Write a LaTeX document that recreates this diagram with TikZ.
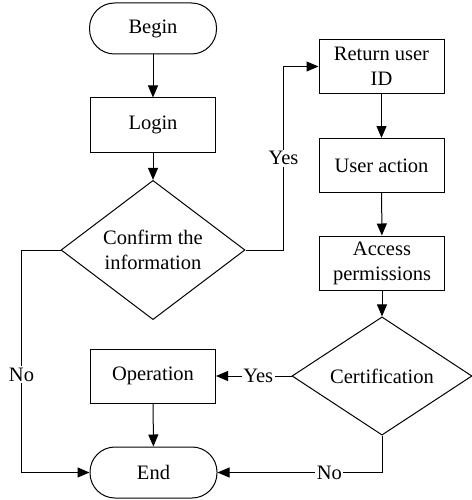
\documentclass[tikz,border=0pt]{standalone}
\usepackage{fontspec}
\setmainfont{Liberation Serif}
\usetikzlibrary{shapes.geometric,arrows.meta}
\begin{document}
\begin{tikzpicture}[x=1pt,y=-1pt,
  every node/.style={font=\fontsize{20.5}{25}\selectfont},
  proc/.style={draw, line width=1pt, minimum width=125pt, minimum height=54pt, inner sep=0pt, align=center},
  term/.style={draw, line width=1pt, rounded corners=25pt, minimum width=127pt, minimum height=51pt, inner sep=0pt},
  decision/.style={draw, diamond, line width=1pt, inner sep=0pt, align=center},
  lbl/.style={fill=white, inner sep=1.5pt},
  flow/.style={line width=1pt, -{Triangle[length=12pt,width=10pt]}}]
\useasboundingbox (0,0) rectangle (471,500);

% left column
\node[term] (begin) at (153,28.5) {Begin};
\node[proc] (login) at (153,125) {Login};
\node[decision, minimum width=184pt, minimum height=108pt] (confirm) at (153,250) {Confirm the\\information};
\node[proc] (oper) at (153,376) {Operation};
\node[term] (end) at (153.5,472.5) {End};

% right column
\node[proc] (ret) at (381.5,66.5) {Return user\\ID};
\node[proc] (act) at (381.5,165.5) {User action};
\node[proc] (perm) at (382,263) {Access\\permissions};
\node[decision, minimum width=180pt, minimum height=110pt] (cert) at (382,376) {Certification};

% straight flow
\draw[flow] (begin) -- (login);
\draw[flow] (login) -- (confirm);
\draw[flow] (ret) -- (act);
\draw[flow] (act) -- (perm);
\draw[flow] (perm) -- (cert);
\draw[flow] (oper) -- (end);

% branches
\draw[flow] (confirm.east) -- ++(38,0) |- node[lbl, pos=0.25] {Yes} (ret.west);
\draw[flow] (confirm.west) -- ++(-39,0) |- node[lbl, pos=0.28] {No} (end.west);
\draw[flow] (cert.west) -- node[lbl, pos=0.44] {Yes} (oper.east);
\draw[flow] (cert.south) |- node[lbl, pos=0.66] {No} (end.east);
\end{tikzpicture}
\end{document}
